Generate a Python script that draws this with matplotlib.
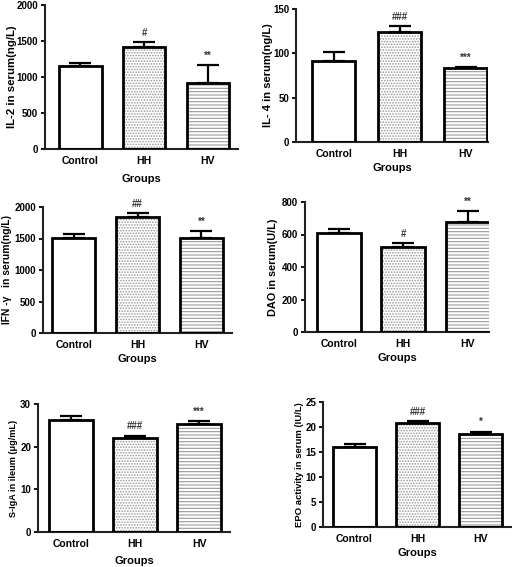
import matplotlib
matplotlib.use("Agg")
import matplotlib.pyplot as plt

plt.rcParams['font.family'] = ['Liberation Sans', 'DejaVu Sans']
plt.rcParams['font.weight'] = 'bold'
plt.rcParams['hatch.linewidth'] = 0.8

groups = ["Control", "HH", "HV"]

il2_mean = [1150, 1410, 910]
il2_err = [45, 70, 260]
il2_sig = ["", "#", "**"]

il4_mean = [91, 124, 83]
il4_err = [10, 7, 2]
il4_sig = ["", "###", "***"]

ifn_mean = [1510, 1840, 1505]
ifn_err = [55, 60, 120]
ifn_sig = ["", "##", "**"]

dao_mean = [612, 522, 680]
dao_err = [20, 23, 62]
dao_sig = ["", "#", "**"]

siga_mean = [26.3, 22.0, 25.3]
siga_err = [0.8, 0.6, 0.6]
siga_sig = ["", "###", "***"]

epo_mean = [16.1, 20.9, 18.6]
epo_err = [0.6, 0.3, 0.5]
epo_sig = ["", "###", "*"]

W, H = 512, 567
fig = plt.figure(figsize=(W / 100, H / 100), dpi=100)

def make_ax(x0, ytop, x1, ybot):
    return fig.add_axes([x0 / W, 1 - ybot / H, (x1 - x0) / W, (ybot - ytop) / H])

panels = [
    dict(rect=(45, 5, 238, 149), m=il2_mean, e=il2_err, s=il2_sig, ylim=2000, step=500,
         ylabel="IL-2 in serum(ng/L)", xlim=(-0.55, 2.47), w=0.67, yfs=8.2, ylx=12, gpad=5.5),
    dict(rect=(296, 9, 488, 142), m=il4_mean, e=il4_err, s=il4_sig, ylim=150, step=50,
         ylabel="IL- 4 in serum(ng/L)", xlim=(-0.57, 2.34), w=0.66, yfs=8.0, ylx=268, gpad=3),
    dict(rect=(43, 207, 232, 333), m=ifn_mean, e=ifn_err, s=ifn_sig, ylim=2000, step=500,
         ylabel="IFN -γ   in serum(ng/L)", xlim=(-0.48, 2.48), w=0.67, yfs=7.4, ylx=7, gpad=3),
    dict(rect=(305, 202, 489, 332), m=dao_mean, e=dao_err, s=dao_sig, ylim=800, step=200,
         ylabel="DAO in serum(U/L)", xlim=(-0.52, 2.33), w=0.68, yfs=7.8, ylx=273, gpad=3),
    dict(rect=(38, 404, 230, 532), m=siga_mean, e=siga_err, s=siga_sig, ylim=30, step=10,
         ylabel="S-IgA in ileum (μg/mL)", xlim=(-0.51, 2.48), w=0.68, yfs=6.6, ylx=14, gpad=5),
    dict(rect=(323, 402, 512, 527), m=epo_mean, e=epo_err, s=epo_sig, ylim=25, step=5,
         ylabel="EPO activity in serum (IU/L)", xlim=(-0.5, 2.5), w=0.69, yfs=6.8, ylx=299, gpad=3),
]

hatches = [None, "......", "-----"]

for p in panels:
    ax = make_ax(*p["rect"])
    x = list(range(len(groups)))
    for i in x:
        if hatches[i]:
            ax.bar(i, p["m"][i], width=p["w"], color="white", edgecolor="#9a9a9a",
                   linewidth=0, hatch=hatches[i], zorder=2)
        ax.bar(i, p["m"][i], width=p["w"], color="none", edgecolor="black",
               linewidth=2.0, zorder=3)
    ax.errorbar(x, p["m"], yerr=[[0] * 3, p["e"]], fmt="none", ecolor="black",
                elinewidth=1.6, capsize=8, capthick=1.6, zorder=1)
    for i in x:
        if p["s"][i]:
            ax.annotate(p["s"][i], (i, p["m"][i] + p["e"][i]), xytext=(0, 3),
                        textcoords="offset points", ha="center", va="bottom",
                        fontsize=7, color="#333333")
    ax.set_ylim(0, p["ylim"])
    ax.set_yticks(list(range(0, p["ylim"] + 1, p["step"])))
    ax.set_xlim(*p["xlim"])
    ax.set_xticks(x)
    ax.set_xticklabels(groups)
    ax.spines["top"].set_visible(False)
    ax.spines["right"].set_visible(False)
    for sp in ("left", "bottom"):
        ax.spines[sp].set_linewidth(1.5)
        ax.spines[sp].set_color("#222222")
    ax.tick_params(axis="y", labelsize=7, width=1.3, length=3, pad=2)
    ax.tick_params(axis="x", labelsize=7.5, length=0, pad=5)
    ax.set_ylabel(p["ylabel"], fontsize=p["yfs"], fontweight="bold", va="center")
    x0, _, x1, _ = p["rect"]
    ax.yaxis.set_label_coords((p["ylx"] - x0) / (x1 - x0), 0.5)
    ax.set_xlabel("Groups", fontsize=8, fontweight="bold", labelpad=p["gpad"])

fig.savefig("out.png", dpi=100)
